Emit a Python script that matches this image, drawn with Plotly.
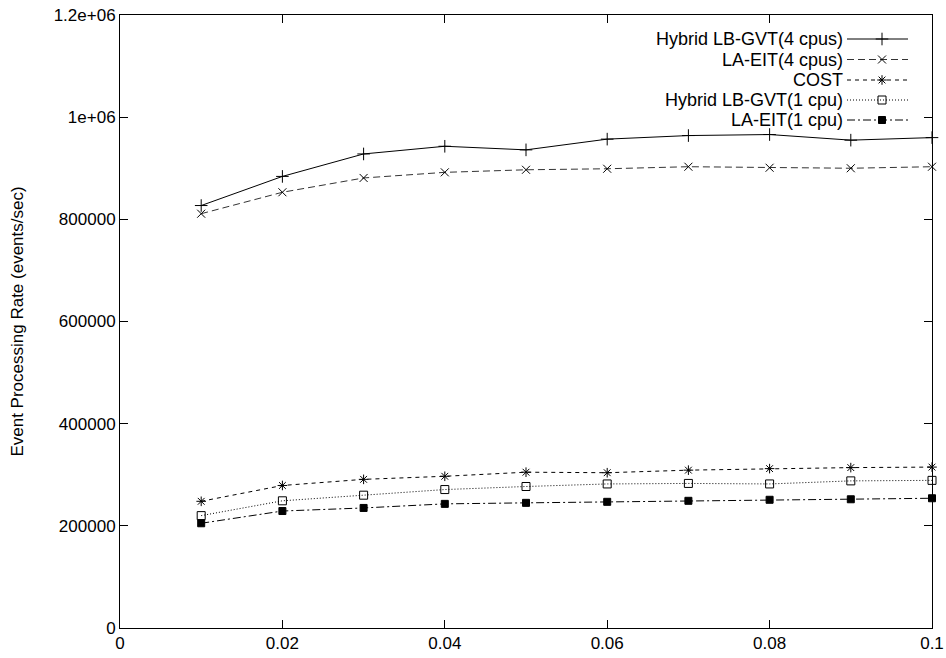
import plotly.graph_objects as go

x_vals = [0.01, 0.02, 0.03, 0.04, 0.05, 0.06, 0.07, 0.08, 0.09, 0.10]
hybrid_4cpu = [827000, 884000, 928000, 943000, 936000, 957000, 964000, 966000, 955000, 960000]
laeit_4cpu = [811000, 853000, 881000, 892000, 897000, 899000, 903000, 901000, 900000, 903000]
cost = [248000, 279000, 291000, 297000, 305000, 304000, 309000, 312000, 314000, 315000]
hybrid_1cpu = [220000, 249000, 260000, 271000, 277000, 282000, 283000, 282000, 288000, 289000]
laeit_1cpu = [205000, 229000, 235000, 243000, 245000, 247000, 249000, 251000, 252000, 254000]

names = ["Hybrid LB-GVT(4 cpus)", "LA-EIT(4 cpus)", "COST", "Hybrid LB-GVT(1 cpu)", "LA-EIT(1 cpu)"]
series = [hybrid_4cpu, laeit_4cpu, cost, hybrid_1cpu, laeit_1cpu]

x_ticks = [0, 0.02, 0.04, 0.06, 0.08, 0.1]
x_ticktext = ["0", "0.02", "0.04", "0.06", "0.08", "0.1"]
y_ticks = [0, 200000, 400000, 600000, 800000, 1000000, 1200000]
y_ticktext = ["0", "200000", "400000", "600000", "800000", "1e+06", "1.2e+06"]

styles = [
    dict(dash="solid", symbol="cross-thin", size=9, color="#000000"),
    dict(dash="7px,4px", symbol="x-thin", size=8, color="#333333"),
    dict(dash="4px,4px", symbol="asterisk", size=8, color="#000000"),
    dict(dash="1px,2px", symbol="square-open", size=8, color="#000000"),
    dict(dash="8px,3px,2px,3px", symbol="square", size=7, color="#000000"),
]

FONT = "Liberation Sans, Arial, sans-serif"
FS = 17
FS_LEG = 18
fig = go.Figure()

for name, ys, st in zip(names, series, styles):
    fig.add_trace(go.Scatter(
        x=x_vals, y=ys, mode="lines+markers", name=name, showlegend=False,
        line=dict(color=st["color"], width=1, dash=st["dash"]),
        marker=dict(symbol=st["symbol"], size=st["size"], color="#000000",
                    line=dict(color="#000000", width=1)),
        cliponaxis=False,
    ))

# manual gnuplot-style legend (text right, sample on the right)
W, H = 812, 613
L, T = 120, 15
row_px = [39, 59.5, 80, 100, 120]
x0p, x1p, xmp = (847 - L) / W, (908 - L) / W, (882 - L) / W
for name, st, py in zip(names, styles, row_px):
    yp = 1 - (py - T) / H
    fig.add_trace(go.Scatter(
        x=[x0p, x1p], y=[yp, yp], xaxis="x2", yaxis="y2", mode="lines",
        line=dict(color=st["color"], width=1, dash=st["dash"]), showlegend=False,
        hoverinfo="skip"))
    fig.add_trace(go.Scatter(
        x=[xmp], y=[yp], xaxis="x2", yaxis="y2", mode="markers",
        marker=dict(symbol=st["symbol"], size=st["size"], color="#000000",
                    line=dict(color="#000000", width=1)),
        showlegend=False, hoverinfo="skip"))
    fig.add_annotation(x=(845 - L) / W, y=yp, xref="paper", yref="paper",
                       text=name, showarrow=False, xanchor="right", yanchor="middle",
                       font=dict(family=FONT, size=FS_LEG, color="#000000"))

axis_common = dict(showline=True, linecolor="#000000", linewidth=1, mirror="allticks",
                   ticks="inside", ticklen=8, tickcolor="#000000", tickwidth=1,
                   showgrid=False, zeroline=False, automargin=False,
                   tickfont=dict(family=FONT, size=FS, color="#000000"))

fig.update_layout(
    width=946, height=658,
    margin=dict(l=120, r=14, t=15, b=30),
    paper_bgcolor="white", plot_bgcolor="white",
    showlegend=False,
    xaxis=dict(range=[0, 0.1], tickvals=x_ticks, ticktext=x_ticktext, **axis_common),
    yaxis=dict(range=[0, 1200000], tickvals=y_ticks, ticktext=y_ticktext,
               title=dict(text="Event Processing Rate (events/sec)",
                          font=dict(family=FONT, size=FS, color="#000000"), standoff=25),
               **axis_common),
    xaxis2=dict(overlaying="x", range=[0, 1], visible=False, fixedrange=True),
    yaxis2=dict(overlaying="y", range=[0, 1], visible=False, fixedrange=True),
)

fig.write_html("out.html")
